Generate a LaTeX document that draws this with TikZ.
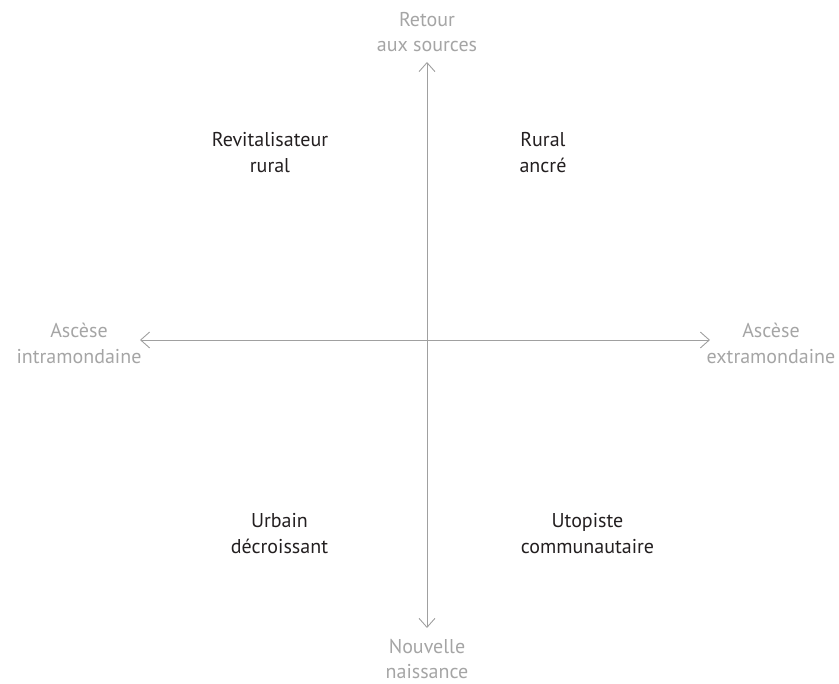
\documentclass[tikz,border=0pt]{standalone}
\usepackage{fontspec}
\setmainfont{PT Sans}
\usepackage{xcolor}
\usetikzlibrary{positioning,arrows.meta}
\definecolor{axisgray}{RGB}{160,160,160}
\definecolor{labelgray}{RGB}{165,165,165}
\definecolor{typetext}{RGB}{35,31,32}
\tikzset{
  axis/.style={
    draw=axisgray,
    line width=0.9pt,
    {Straight Barb[length=9pt,width=16pt]}-{Straight Barb[length=9pt,width=16pt]},
  },
  pole/.style={
    text=labelgray,
    align=center,
    inner sep=0pt,
    font=\fontsize{20}{25.5}\selectfont,
  },
  profile/.style={
    text=typetext,
    align=center,
    inner sep=0pt,
    font=\fontsize{20}{25.5}\selectfont,
  }
}

\begin{document}
\begin{tikzpicture}[x=1pt,y=1pt,node distance=10pt]
        \useasboundingbox (-427,-344) rectangle (412,340);
        \coordinate (o) at (0,0);
        \coordinate (top) at (0,278);
        \coordinate (bottom) at (0,-288);
        \coordinate (left) at (-287,0);
        \coordinate (right) at (283,0);

        \draw [axis] (bottom) -- (top);
        \draw [axis] (left) -- (right);

        \node [pole, above=of top] (sources) {Retour\\aux sources};
        \node [pole, below=11pt of bottom] (naissance) {Nouvelle\\naissance};
        \node [pole] (intra) at (-348,-3.5) {Ascèse\\intramondaine};
        \node [pole] (extra) at (344,-3.5) {Ascèse\\extramondaine};

        \node [profile] (revit) at (-157,187.5) {Revitalisateur\\rural};
        \node [profile] (ancre) at (116,187.5) {Rural\\ancré};
        \node [profile] (urbain) at (-147.5,-193.5) {Urbain\\décroissant};
        \node [profile] (utopiste) at (160.5,-193.5) {Utopiste\\communautaire};
    \end{tikzpicture}
\end{document}
